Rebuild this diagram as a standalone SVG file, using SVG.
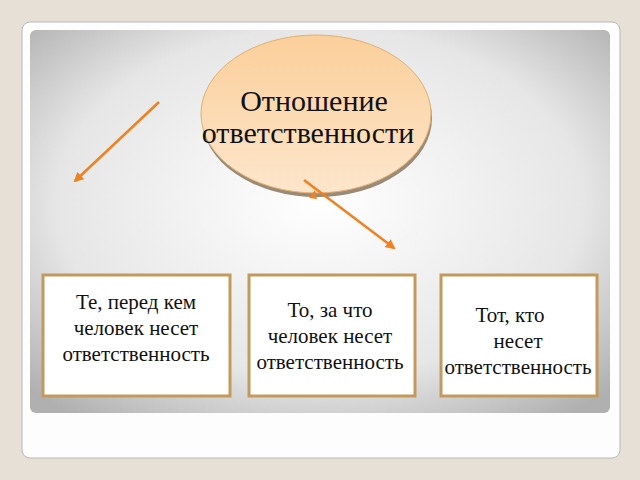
<svg xmlns="http://www.w3.org/2000/svg" width="640" height="480" viewBox="0 0 640 480">
<defs>
<radialGradient id="pg" cx="0.5" cy="0.45" r="0.7">
<stop offset="0" stop-color="#ffffff"/><stop offset="0.65" stop-color="#e6e6e6"/><stop offset="1" stop-color="#b0b0b0"/>
</radialGradient>
<linearGradient id="eg" x1="0" y1="0" x2="0" y2="1">
<stop offset="0" stop-color="#fbcf9a"/><stop offset="1" stop-color="#fde6cc"/>
</linearGradient>
<marker id="ah" viewBox="0 0 10 10" refX="8" refY="5" markerWidth="4" markerHeight="4" orient="auto"><path d="M0,0 L10,5 L0,10 z" fill="#f08020"/></marker>
</defs>
<style>
.box{fill:#fff;stroke:#c49a5c;stroke-width:3}
.t{font-family:"Liberation Serif","Times New Roman",serif;font-size:21px;fill:#111;text-anchor:middle}
.big{font-size:30px}
.c{stroke:#f08020;stroke-width:2.5;fill:none;marker-end:url(#ah)}
</style>
<rect width="640" height="480" fill="#e6e0d6"/>
<rect x="22" y="22" width="598" height="436" rx="8" fill="#fdfdfd" stroke="#b8b8b8"/>
<rect x="30" y="30" width="580" height="383" rx="6" fill="url(#pg)"/>
<g id="n0">
<ellipse cx="317" cy="118" rx="115" ry="79" fill="#9a8a78"/>
<ellipse cx="316" cy="114" rx="115" ry="79" fill="url(#eg)" stroke="#e0b070"/>
<text class="t big" x="314" y="111">Отношение</text>
<text class="t big" x="308" y="143">ответственности</text>
</g>
<g id="n1"><rect class="box" x="43" y="275" width="187" height="121"/>
<text class="t" x="136" y="309">Те, перед кем</text><text class="t" x="136" y="335">человек несет</text><text class="t" x="136" y="361">ответственность</text></g>
<g id="n2"><rect class="box" x="249" y="275" width="166" height="121"/>
<text class="t" x="330" y="317">То, за что</text><text class="t" x="330" y="343">человек несет</text><text class="t" x="330" y="369">ответственность</text></g>
<g id="n3"><rect class="box" x="441" y="275" width="156" height="121"/>
<text class="t" x="510" y="322">Тот, кто</text><text class="t" x="518" y="348">несет</text><text class="t" x="518" y="374">ответственность</text></g>
<g id="connectors">
<line class="c" x1="159" y1="102" x2="75" y2="181"/>
<line class="c" x1="304" y1="180" x2="394" y2="248"/>
<path d="M309,198 L315,190 L317,199 z" fill="#f08020"/>
</g>
</svg>
